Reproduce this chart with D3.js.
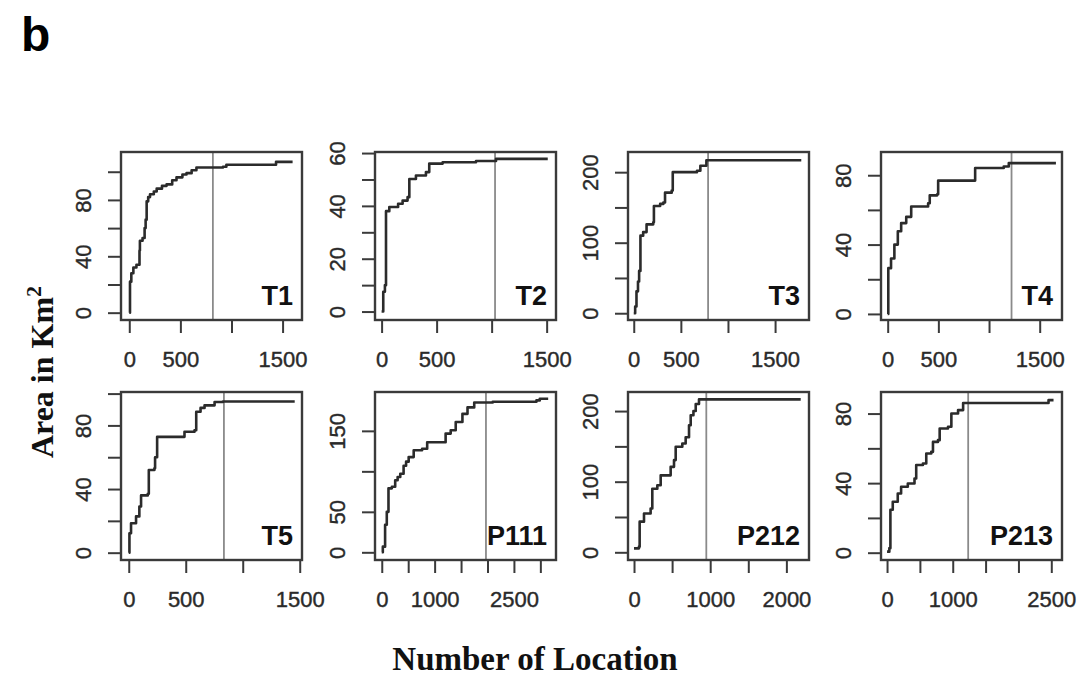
<!DOCTYPE html>
<html>
<head>
<meta charset="utf-8">
<script src="https://cdn.jsdelivr.net/npm/d3@7"></script>
<style>
  body { margin: 0; background: #fff; }
  svg { display: block; }
  .tick-label { font-family: "Liberation Sans", Arial, sans-serif; font-size: 22px; fill: #2a2a2a; stroke: #2a2a2a; stroke-width: 0.4px; }
  .panel-label { font-family: "Liberation Sans", Arial, sans-serif; font-size: 27px; font-weight: bold; fill: #111; }
  .axis-title { font-family: "Liberation Serif", "Times New Roman", serif; font-weight: bold; fill: #111; }
</style>
</head>
<body>
<div id="container"></div>
<script>
const w = 1077;
const h = 679;

// Panel names, in reading order
const panelNames = ['T1', 'T2', 'T3', 'T4', 'T5', 'P111', 'P212', 'P213'];

// Axis limits
const xLimits = [
  [-81, 1690], [-60, 1585], [-61, 1860], [-66, 1720],
  [-68, 1520], [-128, 3296], [-79, 2297], [-92, 2663]
];
const yLimits = [
  [-5.2, 114], [-3.2, 60.4], [-9.6, 228.6], [-3.5, 93.4],
  [-4.6, 101], [-9.5, 198], [-10.9, 227], [-4.2, 92.4]
];

// Tick marks and the labels R kept
const xTicks = [
  [0, 500, 1000, 1500], [0, 500, 1000, 1500], [0, 500, 1000, 1500], [0, 500, 1000, 1500],
  [0, 500, 1000, 1500], [0, 500, 1000, 1500, 2000, 2500, 3000],
  [0, 500, 1000, 1500, 2000], [0, 500, 1000, 1500, 2000, 2500]
];
const xTickLabels = [
  [0, 500, 1500], [0, 500, 1500], [0, 500, 1500], [0, 500, 1500],
  [0, 500, 1500], [0, 1000, 2500], [0, 1000, 2000], [0, 1000, 2500]
];
const yTicks = [
  [0, 20, 40, 60, 80, 100], [0, 10, 20, 30, 40, 50, 60], [0, 50, 100, 150, 200], [0, 20, 40, 60, 80],
  [0, 20, 40, 60, 80, 100], [0, 50, 100, 150], [0, 50, 100, 150, 200], [0, 20, 40, 60, 80]
];
const yTickLabels = [
  [0, 40, 80], [0, 20, 40, 60], [0, 100, 200], [0, 40, 80],
  [0, 40, 80], [0, 50, 150], [0, 100, 200], [0, 40, 80]
];

// Grey vertical marker in each panel
const markers = [818, 1031, 789, 1222, 835, 1971, 949, 1235];

// Cumulative area curves: [number of locations, area in km2] at each step
const curves = [
  [[0, 0], [7, 22], [20, 28], [40, 32], [70, 34], [100, 44], [104, 51], [130, 53], [150, 60], [160, 66],
   [170, 79], [185, 82], [203, 84], [240, 86], [268, 88], [320, 90], [365, 91], [420, 94], [462, 96],
   [520, 98], [560, 99], [610, 101], [657, 103], [917, 103.5], [950, 105], [1404, 105], [1436, 107], [1598, 107]],
  [[0, 0], [15, 7.5], [30, 10], [40, 38], [70, 39.6], [150, 40.8], [191, 42], [236, 43.3], [252, 50.2],
   [312, 51.5], [403, 52.8], [433, 56], [555, 56.5], [858, 57], [1040, 57.8], [1510, 57.8]],
  [[0, 0], [15, 9.5], [29, 31], [45, 45], [57, 60], [71, 110], [100, 115], [136, 126], [207, 129],
   [214, 152], [280, 155], [314, 157], [332, 171], [403, 174], [414, 200], [671, 202], [707, 209],
   [771, 217], [1778, 217]],
  [[0, 0], [6, 26.4], [33, 32], [66, 40], [100, 47.7], [133, 52.4], [183, 56], [232, 62], [399, 63.8],
   [415, 68.4], [488, 69], [498, 76.9], [830, 76.9], [863, 84.2], [1145, 85], [1195, 87], [1660, 87]],
  [[0, 0], [6, 12.2], [20, 18.5], [64, 22.8], [93, 29], [108, 36], [167, 37], [176, 52], [225, 53],
   [231, 60], [249, 72.8], [460, 72.8], [489, 76], [577, 77], [592, 88.6], [630, 91], [665, 92.6],
   [753, 94.7], [826, 95], [1456, 95]],
  [[0, 0], [20, 7], [63, 34], [95, 50], [127, 79], [191, 81], [254, 89], [300, 93], [350, 97], [413, 107],
   [460, 112], [509, 117.6], [604, 126], [763, 128], [859, 136], [1145, 136], [1208, 146.6], [1304, 150.7],
   [1399, 161], [1526, 171], [1622, 179], [1749, 185], [2099, 186], [2926, 187.6], [2989, 189.7], [3148, 189.7]],
  [[0, 5.6], [65, 8], [74, 43.4], [131, 55], [218, 62], [240, 90], [306, 95], [350, 109], [437, 109],
   [481, 121], [525, 130.6], [547, 149.5], [634, 154], [678, 163], [722, 180], [744, 194], [780, 200],
   [810, 210], [853, 216.5], [2188, 216.5]],
  [[0, 0.6], [35, 2.6], [51, 24.7], [87, 29.3], [163, 34], [214, 37.9], [316, 39.8], [418, 42.7],
   [444, 50.4], [546, 51.3], [597, 57], [673, 58], [699, 63.7], [775, 64.7], [801, 71.4], [928, 72.4],
   [979, 80], [1081, 82], [1158, 86.1], [2407, 86.1], [2458, 87.7], [2534, 87.7]]
];

// Layout
const colLeft = [121, 375, 628, 881];
const rowTop = [152, 392];
const boxW = 181;
const boxH = 168;
const tickLen = 13;
const lineColor = '#3a3a3a';

const svg = d3.select('#container')
              .append('svg')
              .attr('width', w)
              .attr('height', h);

svg.append('rect')
   .attr('width', w)
   .attr('height', h)
   .attr('fill', '#fff');

panelNames.forEach((name, i) => drawPanel(i));
createTitles();

function drawPanel(i) {
  const g = svg.append('g')
               .attr('transform', `translate(${colLeft[i % 4]}, ${rowTop[Math.floor(i / 4)]})`);

  const xScale = d3.scaleLinear().domain(xLimits[i]).range([0, boxW]);
  const yScale = d3.scaleLinear().domain(yLimits[i]).range([boxH, 0]);

  const xAxis = d3.axisBottom(xScale)
                  .tickValues(xTicks[i])
                  .tickSize(tickLen)
                  .tickPadding(18)
                  .tickFormat(d => xTickLabels[i].includes(d) ? d : '');

  const yAxis = d3.axisLeft(yScale)
                  .tickValues(yTicks[i])
                  .tickSize(tickLen)
                  .tickFormat(d => yTickLabels[i].includes(d) ? d : '');

  const gx = g.append('g')
              .attr('transform', `translate(0, ${boxH})`)
              .call(xAxis);

  const gy = g.append('g').call(yAxis);

  [gx, gy].forEach(a => {
    a.select('.domain').remove();
    a.selectAll('line').attr('stroke', lineColor).attr('stroke-width', 2);
    a.selectAll('text').attr('class', 'tick-label').attr('font-family', null).attr('font-size', null);
  });

  // rotated y labels, as R draws them
  gy.selectAll('text')
    .attr('transform', 'rotate(-90)')
    .attr('x', 0)
    .attr('y', -38)
    .attr('dy', '0.36em')
    .attr('text-anchor', 'middle');

  // marker line
  g.append('line')
   .attr('x1', xScale(markers[i]))
   .attr('x2', xScale(markers[i]))
   .attr('y1', 0)
   .attr('y2', boxH)
   .attr('stroke', '#8a8a8a')
   .attr('stroke-width', 1.8);

  const line = d3.line()
                 .x(d => xScale(d[0]))
                 .y(d => yScale(d[1]))
                 .curve(d3.curveStepAfter);

  g.append('path')
   .datum(curves[i])
   .attr('d', line)
   .attr('fill', 'none')
   .attr('stroke', '#2b2b2b')
   .attr('stroke-width', 2.6)
   .attr('stroke-linejoin', 'round');

  g.append('rect')
   .attr('width', boxW)
   .attr('height', boxH)
   .attr('fill', 'none')
   .attr('stroke', lineColor)
   .attr('stroke-width', 2.4);

  g.append('text')
   .attr('class', 'panel-label')
   .attr('x', boxW - 9)
   .attr('y', boxH - 15)
   .attr('text-anchor', 'end')
   .text(panelNames[i]);
}

function createTitles() {
  svg.append('text')
     .attr('x', 21)
     .attr('y', 51)
     .style('font-family', '"Liberation Sans", Arial, sans-serif')
     .style('font-weight', 'bold')
     .style('font-size', '48px')
     .text('b');

  const yTitle = svg.append('text')
                    .attr('class', 'axis-title')
                    .attr('transform', 'translate(53, 372) rotate(-90)')
                    .attr('text-anchor', 'middle')
                    .style('font-size', '32px');
  yTitle.append('tspan').text('Area in Km');
  yTitle.append('tspan')
        .attr('dy', -12)
        .style('font-size', '22px')
        .text('2');

  svg.append('text')
     .attr('class', 'axis-title')
     .attr('x', 535)
     .attr('y', 670)
     .attr('text-anchor', 'middle')
     .style('font-size', '33px')
     .text('Number of Location');
}
</script>
</body>
</html>
